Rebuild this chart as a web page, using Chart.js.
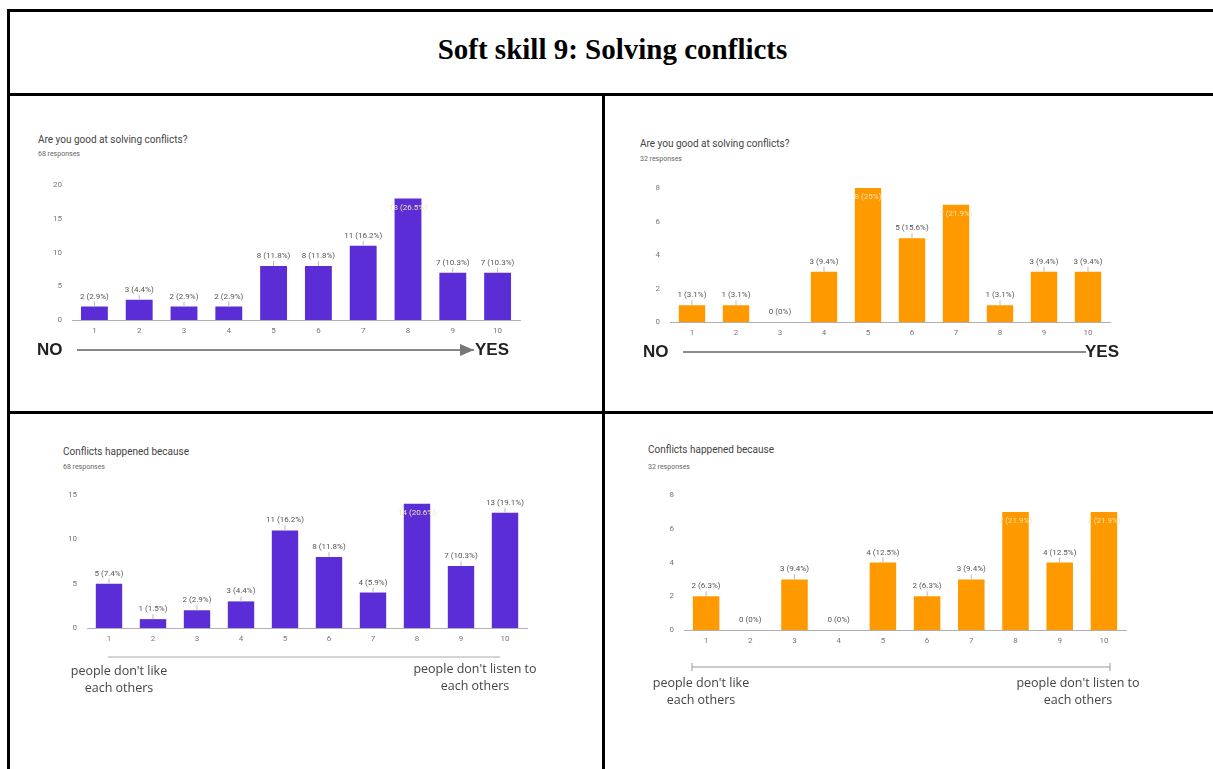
<!DOCTYPE html>
<html>
<head>
<meta charset="utf-8">
<script src="https://cdn.jsdelivr.net/npm/chart.js@4.4.1/dist/chart.umd.min.js"></script>
<style>
  html, body { margin: 0; padding: 0; background: #fff; }
  #page { position: relative; width: 1213px; height: 769px; overflow: hidden; background: #fff; font-family: Roboto, "Noto Sans", sans-serif; }
  .bar { position: absolute; background: #000; }
  .abs { position: absolute; white-space: nowrap; }
  .maintitle { font-family: "Liberation Serif", "Times New Roman", serif; font-weight: bold; font-size: 29px; color: #000; }
  .ctitle { font-size: 10px; color: #444; }
  .csub { font-size: 7px; color: #666; }
  .big { font-family: "Liberation Sans", Arial, sans-serif; font-weight: bold; font-size: 17px; color: #222; }
  .ann { font-family: "Open Sans", "Noto Sans", sans-serif; font-size: 12.5px; color: #444; text-align: center; line-height: 17px; }
  canvas { position: absolute; }
  svg { position: absolute; left: 0; top: 0; }
</style>
</head>
<body>
<div id="page">
  <!-- table borders -->
  <div class="bar" style="left:7px;top:9px;width:1206px;height:3px;"></div>
  <div class="bar" style="left:7px;top:93px;width:1206px;height:3px;"></div>
  <div class="bar" style="left:7px;top:9px;width:3px;height:760px;"></div>
  <div class="bar" style="left:602px;top:93px;width:3px;height:676px;"></div>
  <div class="bar" style="left:7px;top:411px;width:1206px;height:3px;"></div>

  <div class="abs maintitle" style="left:0;width:1225px;top:33px;text-align:center;">Soft skill 9: Solving conflicts</div>

  <!-- chart titles -->
  <div class="abs ctitle" style="left:38px;top:134px;">Are you good at solving conflicts?</div>
  <div class="abs csub" style="left:38px;top:150px;">68 responses</div>
  <div class="abs ctitle" style="left:640px;top:138px;">Are you good at solving conflicts?</div>
  <div class="abs csub" style="left:640px;top:155px;">32 responses</div>
  <div class="abs ctitle" style="left:63px;top:446px;">Conflicts happened because</div>
  <div class="abs csub" style="left:63px;top:463px;">68 responses</div>
  <div class="abs ctitle" style="left:648px;top:444px;">Conflicts happened because</div>
  <div class="abs csub" style="left:648px;top:463px;">32 responses</div>

  <canvas id="c1"></canvas>
  <canvas id="c2"></canvas>
  <canvas id="c3"></canvas>
  <canvas id="c4"></canvas>

  <svg width="1213" height="769">
    <defs>
      <marker id="ah" markerWidth="8" markerHeight="8" refX="7" refY="4" orient="auto">
        <path d="M0,1 L7,4 L0,7 Z" fill="#777"/>
      </marker>
    </defs>
    <line x1="77" y1="350" x2="474" y2="350" stroke="#888" stroke-width="2" marker-end="url(#ah)"/>
    <line x1="683" y1="352" x2="1086" y2="352" stroke="#666" stroke-width="1.5"/>
    <line x1="108" y1="657" x2="500" y2="657" stroke="#aaa" stroke-width="1"/>
    <line x1="692" y1="667" x2="1110" y2="667" stroke="#999" stroke-width="1"/>
    <line x1="692" y1="663" x2="692" y2="671" stroke="#999" stroke-width="1"/>
    <line x1="1110" y1="663" x2="1110" y2="671" stroke="#999" stroke-width="1"/>
  </svg>

  <div class="abs big" style="left:37px;top:340px;">NO</div>
  <div class="abs big" style="left:475px;top:340px;">YES</div>
  <div class="abs big" style="left:643px;top:342px;">NO</div>
  <div class="abs big" style="left:1085px;top:342px;">YES</div>

  <div class="abs ann" style="left:58px;width:122px;top:662px;">people don't like<br>each others</div>
  <div class="abs ann" style="left:410px;width:130px;top:660px;">people don't listen to<br>each others</div>
  <div class="abs ann" style="left:640px;width:122px;top:674px;">people don't like<br>each others</div>
  <div class="abs ann" style="left:1008px;width:140px;top:674px;">people don't listen to<br>each others</div>
</div>

<script>
// ---- data ----
const categories = ['1', '2', '3', '4', '5', '6', '7', '8', '9', '10'];
const goodAtSolvingLeft = [2, 3, 2, 2, 8, 8, 11, 18, 7, 7];   // 68 responses
const goodAtSolvingRight = [1, 1, 0, 3, 8, 5, 7, 1, 3, 3];    // 32 responses
const becauseLeft = [5, 1, 2, 3, 11, 8, 4, 14, 7, 13];        // 68 responses
const becauseRight = [2, 0, 3, 0, 4, 2, 3, 7, 4, 7];          // 32 responses
const ticksGoodLeft = [0, 5, 10, 15, 20];
const ticksGoodRight = [0, 2, 4, 6, 8];
const ticksBecauseLeft = [0, 5, 10, 15];
const ticksBecauseRight = [0, 2, 4, 6, 8];

const PURPLE = '#5b2dd6';
const ORANGE = '#ff9900';

function fmtPct(v, total) {
  let p = (v / total * 100).toFixed(1);
  if (p.endsWith('.0')) p = p.slice(0, -2);
  return v + ' (' + p + '%)';
}

const labelPlugin = {
  id: 'barLabels',
  afterDatasetsDraw(chart) {
    const ctx = chart.ctx;
    const ds = chart.data.datasets[0];
    const total = ds.data.reduce((a, b) => a + b, 0);
    const yMax = chart.scales.y.max;
    const meta = chart.getDatasetMeta(0);
    ctx.save();
    ctx.font = '8px Roboto, sans-serif';
    ctx.textAlign = 'center';
    meta.data.forEach((bar, i) => {
      const v = ds.data[i];
      const txt = fmtPct(v, total);
      if (v / yMax >= 0.87) {
        ctx.fillStyle = '#f3e3a6';
        ctx.textBaseline = 'top';
        ctx.fillText(txt, bar.x, bar.y + 5);
      } else {
        ctx.fillStyle = '#555';
        ctx.textBaseline = 'bottom';
        ctx.fillText(txt, bar.x, bar.y - 6);
        if (v > 0) {
          ctx.strokeStyle = '#bbb';
          ctx.lineWidth = 1;
          ctx.beginPath();
          ctx.moveTo(bar.x, bar.y - 5);
          ctx.lineTo(bar.x, bar.y);
          ctx.stroke();
        }
      }
    });
    ctx.restore();
  }
};

function makeChart(id, values, tickVals, color, area) {
  const yW = 40, xH = 25, padT = 15, padR = 10;
  const cv = document.getElementById(id);
  const left = area.l - yW, top = area.t - padT;
  const w = area.r + padR - left, h = area.b + xH - top;
  cv.style.left = left + 'px';
  cv.style.top = top + 'px';
  cv.style.width = w + 'px';
  cv.style.height = h + 'px';
  cv.width = w; cv.height = h;
  new Chart(cv, {
    type: 'bar',
    data: {
      labels: categories,
      datasets: [{ data: values, backgroundColor: color, categoryPercentage: 1, barPercentage: 0.6 }]
    },
    options: {
      responsive: false,
      animation: false,
      devicePixelRatio: 1,
      layout: { padding: { top: padT, right: padR, left: 0, bottom: 0 } },
      plugins: { legend: { display: false }, tooltip: { enabled: false } },
      scales: {
        x: {
          offset: true,
          grid: { display: false, drawTicks: false },
          border: { display: true, color: '#b0b0b0', width: 1 },
          ticks: { color: '#777', font: { size: 8, family: 'Roboto' }, padding: 6, maxRotation: 0 },
          afterFit(s) { s.height = xH; }
        },
        y: {
          min: tickVals[0],
          max: tickVals[tickVals.length - 1],
          grid: { display: false, drawTicks: false },
          border: { display: false },
          afterBuildTicks(s) { s.ticks = tickVals.map(v => ({ value: v })); },
          ticks: { color: '#777', font: { size: 8, family: 'Roboto' }, padding: 10 },
          afterFit(s) { s.width = yW; }
        }
      }
    },
    plugins: [labelPlugin]
  });
}

makeChart('c1', goodAtSolvingLeft, ticksGoodLeft, PURPLE, { l: 72, r: 520, t: 185, b: 320 });
makeChart('c2', goodAtSolvingRight, ticksGoodRight, ORANGE, { l: 670, r: 1110, t: 188, b: 322 });
makeChart('c3', becauseLeft, ticksBecauseLeft, PURPLE, { l: 87, r: 527, t: 495, b: 628 });
makeChart('c4', becauseRight, ticksBecauseRight, ORANGE, { l: 684, r: 1126, t: 495, b: 630 });
</script>
</body>
</html>
